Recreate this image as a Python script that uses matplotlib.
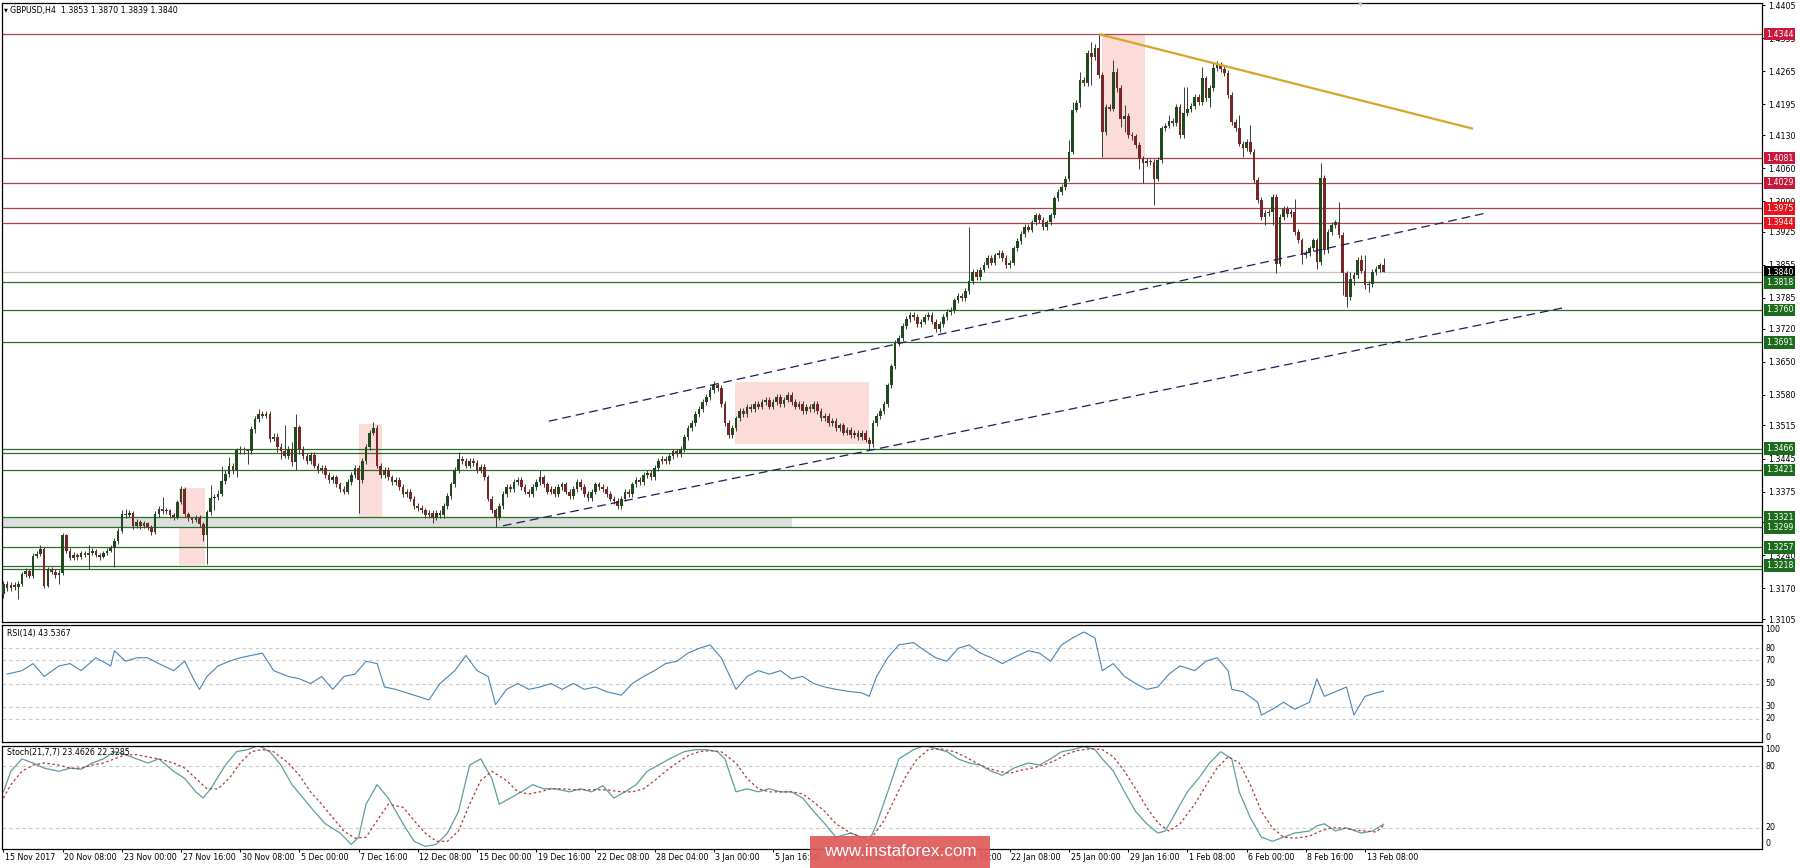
import numpy as np
import matplotlib.pyplot as plt
from matplotlib.patches import Rectangle

plt.rcParams['font.family'] = ['DejaVu Sans']

# ---------------- data: GBPUSD H4 candles, prices in points (0.0001) ----------------
first_open = 13158
closes = [
    13180, 13170, 13178, 13172, 13180, 13200, 13207, 13197, 13239, 13243,
    13254, 13176, 13211, 13205, 13198, 13203, 13282, 13250, 13235, 13240,
    13236, 13245, 13240, 13245, 13250, 13240, 13237, 13244, 13250, 13255,
    13271, 13292, 13328, 13325, 13330, 13303, 13310, 13302, 13308, 13300,
    13290, 13328, 13338, 13333, 13335, 13325, 13320, 13352, 13381, 13328,
    13318, 13314, 13320, 13306, 13282, 13331, 13362, 13363, 13370, 13398,
    13412, 13430, 13420, 13462, 13465, 13462, 13460, 13508, 13529, 13540,
    13535, 13540, 13487, 13490, 13470, 13460, 13451, 13465, 13437, 13511,
    13465, 13450, 13440, 13452, 13430, 13420, 13425, 13410, 13400, 13405,
    13390, 13380, 13375, 13395, 13410, 13425, 13400, 13440, 13470, 13500,
    13510, 13430, 13410, 13420, 13405, 13395, 13400, 13385, 13370, 13375,
    13360, 13345, 13340, 13335, 13325, 13330, 13320, 13330, 13325, 13345,
    13365, 13390, 13420, 13445, 13440, 13430, 13440, 13435, 13420, 13428,
    13405, 13360, 13335, 13320, 13345, 13370, 13385, 13380, 13395, 13400,
    13385, 13375, 13370, 13385, 13395, 13405, 13390, 13375, 13380, 13370,
    13385, 13390, 13375, 13365, 13380, 13395, 13385, 13370, 13362, 13375,
    13390, 13385, 13380, 13370, 13360, 13355, 13345, 13360, 13375, 13370,
    13390, 13400, 13395, 13410, 13415, 13405, 13425, 13440, 13445, 13440,
    13450, 13460, 13455, 13465, 13490, 13510, 13520, 13540, 13550, 13565,
    13575, 13590, 13600, 13595, 13560, 13520, 13495, 13510, 13530, 13545,
    13540, 13555, 13550, 13560, 13555, 13565, 13570, 13555, 13565, 13575,
    13560, 13570, 13580, 13565, 13555, 13560, 13545, 13555, 13550, 13560,
    13545, 13530, 13535, 13520, 13525, 13510, 13515, 13500, 13505, 13495,
    13500, 13490, 13500, 13485, 13475, 13520, 13535, 13545, 13560, 13600,
    13640, 13690, 13700, 13725, 13740, 13750, 13745, 13730, 13735, 13745,
    13750, 13735, 13720, 13730, 13745, 13755, 13760, 13780, 13790, 13785,
    13800, 13820, 13840, 13830, 13845, 13855, 13870, 13860, 13875, 13880,
    13870, 13855, 13860, 13890, 13905, 13920, 13935, 13930, 13945, 13960,
    13950, 13935, 13945, 13960, 13996, 14010, 14020, 14038, 14095, 14183,
    14197, 14247, 14240, 14303, 14295, 14315, 14257, 14137, 14190, 14186,
    14264, 14229, 14165, 14170, 14130, 14127, 14109, 14080, 14070, 14075,
    14073, 14038, 14077, 14144, 14150, 14160, 14155, 14190, 14130, 14176,
    14185, 14192, 14211, 14200, 14250, 14208, 14230, 14271, 14278, 14270,
    14262, 14215, 14158, 14144, 14112, 14102, 14115, 14095, 14035, 13992,
    13957, 13965, 13968, 13999, 13858, 13957, 13974, 13962, 13968, 13925,
    13907, 13875, 13880, 13890, 13907, 13861, 14040, 13886, 13925, 13939,
    13945, 13918, 13837, 13787, 13826, 13833, 13865, 13843, 13812, 13815,
    13840, 13846, 13854, 13840,
]
highs = [
    13186, 13185, 13184, 13183, 13186, 13205, 13213, 13210, 13244, 13250,
    13262, 13258, 13216, 13215, 13212, 13208, 13288, 13285, 13255, 13246,
    13245, 13250, 13249, 13262, 13256, 13254, 13245, 13249, 13255, 13262,
    13276, 13298, 13335, 13338, 13336, 13333, 13316, 13314, 13313, 13311,
    13304, 13333, 13344, 13364, 13341, 13338, 13330, 13358, 13386, 13384,
    13332, 13322, 13326, 13325, 13310, 13336, 13388, 13370, 13378, 13430,
    13420, 13448, 13436, 13468, 13472, 13470, 13466, 13514, 13536, 13550,
    13546, 13546, 13545, 13498, 13500, 13478, 13515, 13472, 13480, 13540,
    13515, 13471, 13456, 13458, 13458, 13436, 13431, 13431, 13416, 13411,
    13411, 13396, 13386, 13401, 13416, 13431, 13431, 13446, 13476, 13506,
    13522, 13516, 13436, 13426, 13426, 13411, 13406, 13406, 13391, 13381,
    13381, 13366, 13351, 13346, 13341, 13336, 13336, 13336, 13336, 13351,
    13371, 13396, 13426, 13458, 13451, 13446, 13446, 13446, 13441, 13434,
    13434, 13411, 13366, 13341, 13351, 13376, 13391, 13391, 13401, 13406,
    13406, 13391, 13381, 13391, 13401, 13420, 13411, 13396, 13386, 13386,
    13391, 13396, 13396, 13381, 13386, 13401, 13401, 13391, 13376, 13381,
    13396, 13396, 13391, 13386, 13376, 13366, 13361, 13366, 13381, 13381,
    13396, 13406, 13406, 13416, 13421, 13421, 13431, 13446, 13451, 13451,
    13456, 13466, 13466, 13471, 13496, 13516, 13526, 13546, 13556, 13571,
    13581, 13596, 13610, 13606, 13601, 13566, 13526, 13516, 13536, 13551,
    13551, 13561, 13561, 13566, 13566, 13571, 13576, 13576, 13571, 13581,
    13581, 13576, 13586, 13586, 13571, 13566, 13566, 13561, 13561, 13566,
    13566, 13551, 13541, 13541, 13531, 13531, 13521, 13521, 13511, 13511,
    13506, 13506, 13506, 13506, 13491, 13526, 13541, 13551, 13566, 13606,
    13646, 13696, 13706, 13731, 13746, 13756, 13756, 13751, 13741, 13751,
    13756, 13756, 13741, 13736, 13751, 13761, 13766, 13786, 13796, 13796,
    13806, 13935, 13846, 13846, 13851, 13861, 13876, 13876, 13881, 13886,
    13886, 13876, 13866, 13896, 13911, 13926, 13941, 13941, 13951, 13966,
    13966, 13956, 13951, 13966, 14002, 14016, 14026, 14044, 14119, 14201,
    14205, 14264, 14253, 14310, 14328, 14322, 14344, 14263, 14196, 14196,
    14289, 14271, 14235, 14193, 14176, 14136, 14133, 14115, 14086, 14081,
    14080, 14079, 14083, 14150, 14156, 14172, 14166, 14196, 14196, 14232,
    14232, 14198, 14217, 14217, 14274, 14256, 14236, 14282, 14286, 14284,
    14276, 14268, 14221, 14164, 14172, 14118, 14121, 14151, 14101, 14041,
    13998, 13971, 13974, 14005, 14005, 13963, 13980, 13980, 13974, 13995,
    13931, 13913, 13886, 13896, 13913, 13913, 14070, 14046, 13931, 13945,
    13951, 13988, 13924, 13843, 13840, 13839, 13872, 13875, 13875, 13821,
    13846, 13852, 13860, 13870,
]
lows = [
    13150, 13165, 13164, 13166, 13147, 13174, 13195, 13192, 13193, 13235,
    13238, 13170, 13172, 13200, 13192, 13180, 13198, 13244, 13230, 13230,
    13231, 13233, 13236, 13210, 13240, 13236, 13230, 13234, 13240, 13246,
    13215, 13265, 13288, 13320, 13321, 13296, 13298, 13296, 13298, 13294,
    13284, 13286, 13322, 13328, 13328, 13320, 13314, 13316, 13348, 13322,
    13312, 13308, 13310, 13300, 13270, 13222, 13326, 13336, 13358, 13365,
    13390, 13405, 13412, 13405, 13455, 13455, 13434, 13455, 13500, 13522,
    13530, 13530, 13480, 13482, 13458, 13444, 13446, 13445, 13430, 13420,
    13455, 13444, 13434, 13434, 13424, 13414, 13414, 13404, 13394, 13394,
    13384, 13374, 13369, 13369, 13389, 13404, 13330, 13394, 13434, 13464,
    13494, 13424, 13404, 13404, 13399, 13389, 13389, 13379, 13364, 13364,
    13354, 13339, 13334, 13329, 13319, 13319, 13308, 13314, 13319, 13319,
    13339, 13359, 13384, 13414, 13434, 13424, 13424, 13429, 13414, 13414,
    13399, 13354, 13329, 13300, 13314, 13339, 13364, 13374, 13374, 13389,
    13379, 13369, 13364, 13364, 13379, 13389, 13384, 13369, 13369, 13364,
    13364, 13379, 13369, 13359, 13359, 13374, 13379, 13364, 13356, 13356,
    13369, 13379, 13374, 13364, 13354, 13349, 13339, 13339, 13354, 13364,
    13364, 13384, 13389, 13389, 13404, 13399, 13399, 13419, 13434, 13434,
    13434, 13444, 13449, 13449, 13459, 13484, 13504, 13514, 13534, 13544,
    13559, 13569, 13584, 13589, 13554, 13514, 13489, 13489, 13504, 13524,
    13534, 13534, 13544, 13544, 13549, 13549, 13559, 13549, 13549, 13559,
    13554, 13554, 13564, 13559, 13549, 13549, 13539, 13539, 13544, 13544,
    13539, 13524, 13524, 13514, 13514, 13504, 13504, 13494, 13494, 13489,
    13489, 13484, 13484, 13479, 13462, 13469, 13514, 13529, 13539, 13554,
    13594, 13634, 13684, 13694, 13719, 13734, 13739, 13724, 13724, 13729,
    13739, 13729, 13714, 13714, 13724, 13739, 13749, 13754, 13774, 13779,
    13779, 13794, 13814, 13824, 13824, 13839, 13849, 13854, 13854, 13869,
    13864, 13849, 13849, 13854, 13884, 13899, 13914, 13924, 13924, 13939,
    13944, 13929, 13929, 13939, 13955, 13990, 14004, 14014, 14032, 14090,
    14178, 14190, 14234, 14234, 14236, 14290, 14250, 14084, 14130, 14180,
    14180, 14222, 14148, 14137, 14124, 14120, 14103, 14059, 14028, 14064,
    14066, 13982, 14032, 14071, 14138, 14144, 14149, 14149, 14124, 14124,
    14170, 14179, 14186, 14194, 14194, 14202, 14190, 14224, 14265, 14264,
    14256, 14209, 14152, 14138, 14106, 14084, 14096, 14089, 14028, 13986,
    13951, 13939, 13959, 13939, 13837, 13852, 13951, 13956, 13956, 13919,
    13901, 13858, 13869, 13874, 13884, 13847, 13855, 13879, 13880, 13919,
    13933, 13912, 13791, 13766, 13781, 13812, 13827, 13837, 13805, 13798,
    13809, 13834, 13840, 13839,
]

# right price scale (1.3310 sits under the 1.3321/1.3299 tags and is not visible)
price_ticks = [1.4405, 1.4335, 1.4265, 1.4195, 1.4130, 1.4060, 1.3990, 1.3925, 1.3855, 1.3785,
               1.3720, 1.3650, 1.3580, 1.3515, 1.3445, 1.3375, 1.3310, 1.3240, 1.3170, 1.3105]
hidden_ticks = [1.3310]

# horizontal levels drawn on the chart
red_levels = [1.4344, 1.4081, 1.4029, 1.3975, 1.3944]
green_levels = [1.3818, 1.3760, 1.3691, 1.3466, 1.3456, 1.3421, 1.3321, 1.3299, 1.3257, 1.3218, 1.3210]
last_price = 1.3840

# price tags on the right scale
tag_prices = [1.4344, 1.4081, 1.4029, 1.3975, 1.3944, 1.3840, 1.3818, 1.3760, 1.3691,
              1.3466, 1.3421, 1.3321, 1.3299, 1.3257, 1.3218]
tag_colors = ['#c8193c', '#c8193c', '#c8193c', '#e8141e', '#e8141e', '#000000', '#1d6b1d', '#1d6b1d',
              '#1d6b1d', '#1d6b1d', '#1d6b1d', '#1d6b1d', '#1d6b1d', '#1d6b1d', '#1d6b1d']

# highlighted zones (bar from, bar to, price low, price high)
pink_from = [47.5, 96.1, 197.7, 296.8]
pink_to = [54.5, 102.3, 234.0, 308.5]
pink_low = [1.3220, 1.3320, 1.3476, 1.4081]
pink_high = [1.3383, 1.3519, 1.3607, 1.4344]
band_to = 213.2           # grey band 1.3299 - 1.3321 ends here

# trend lines (bar, price)
chan_up_bars, chan_up_px = [147.4, 400.2], [1.3524, 1.3964]
chan_lo_bars, chan_lo_px = [135.0, 421.7], [1.33025, 1.37644]
res_bars, res_px = [296.4, 396.9], [1.4343, 1.4144]

# time axis labels, one every 16 bars
time_labels = ['15 Nov 2017', '20 Nov 08:00', '23 Nov 00:00', '27 Nov 16:00', '30 Nov 08:00',
               '5 Dec 00:00', '7 Dec 16:00', '12 Dec 08:00', '15 Dec 00:00', '19 Dec 16:00',
               '22 Dec 08:00', '28 Dec 04:00', '3 Jan 00:00', '5 Jan 16:00', '10 Jan 08:00',
               '15 Jan 00:00', '17 Jan 16:00', '22 Jan 08:00', '25 Jan 00:00', '29 Jan 16:00',
               '1 Feb 08:00', '6 Feb 00:00', '8 Feb 16:00', '13 Feb 08:00']

# RSI(14)
rsi_bars = [1, 5, 8, 11, 15, 18, 21, 25, 29, 30, 33, 36, 39, 42, 46, 49, 52, 53, 55, 58,
            61, 64, 67, 70, 73, 77, 80, 83, 86, 89, 92, 95, 98, 101, 103, 106, 109, 112, 115, 118,
            122, 125, 128, 131, 133, 136, 139, 142, 145, 148, 151, 154, 157, 160, 163, 167, 170, 173, 176, 179,
            182, 185, 188, 191, 194, 198, 201, 204, 207, 210, 213, 216, 219, 222, 225, 229, 232, 234, 236, 239,
            242, 246, 249, 252, 255, 258, 261, 264, 267, 270, 273, 277, 280, 283, 286, 289, 292, 295, 297, 300,
            303, 306, 309, 312, 315, 318, 322, 325, 328, 331, 332, 335, 339, 340, 343, 346, 349, 353, 355, 357,
            360, 363, 365, 368, 371, 373]
rsi_vals = [58, 61, 67, 56, 65, 67, 61, 72, 65, 78, 69, 72, 72, 67, 61, 69, 50, 45, 56, 65,
            69, 72, 74, 76, 61, 56, 54, 50, 56, 45, 56, 58, 69, 67, 47, 45, 42, 39, 36, 50,
            61, 74, 61, 56, 32, 45, 50, 45, 47, 50, 45, 50, 45, 47, 43, 40, 50, 56, 61, 67,
            69, 76, 80, 83, 72, 45, 56, 61, 58, 61, 54, 56, 50, 47, 45, 43, 42, 39, 56, 72,
            83, 85, 78, 72, 69, 80, 83, 76, 72, 67, 72, 78, 76, 69, 83, 89, 94, 89, 61, 67,
            56, 50, 45, 47, 58, 65, 61, 69, 72, 61, 45, 43, 34, 23, 28, 34, 28, 34, 54, 39,
            43, 47, 23, 39, 42, 43.5]

# Stochastic(21,7,7)
stk_bars = [0, 2, 5, 8, 11, 15, 18, 21, 24, 27, 30, 33, 36, 39, 42, 46, 49, 52, 54, 56,
            60, 63, 66, 69, 72, 75, 78, 81, 84, 87, 91, 94, 96, 98, 101, 104, 108, 111, 114, 117,
            120, 123, 126, 129, 132, 134, 137, 140, 143, 146, 149, 153, 156, 159, 162, 165, 168, 171, 174, 177,
            180, 184, 187, 190, 193, 195, 198, 201, 204, 207, 210, 213, 216, 219, 222, 225, 229, 232, 234, 236,
            239, 242, 246, 249, 252, 255, 258, 261, 264, 267, 270, 273, 277, 280, 283, 286, 289, 292, 295, 297,
            300, 303, 306, 309, 312, 314, 317, 320, 323, 326, 329, 332, 334, 337, 340, 343, 346, 349, 353, 355,
            357, 360, 363, 367, 370, 373]
stk_main = [55, 75, 87, 83, 78, 75, 78, 77, 83, 87, 94, 91, 87, 83, 87, 75, 68, 55, 49, 58,
            81, 94, 96, 100, 94, 81, 62, 49, 36, 24, 15, 4, 11, 43, 62, 49, 24, 7, 2, 4,
            15, 36, 81, 87, 68, 43, 49, 55, 62, 58, 58, 55, 58, 55, 61, 49, 55, 62, 75, 81,
            87, 94, 96, 96, 94, 87, 55, 58, 55, 58, 55, 55, 49, 36, 24, 11, 15, 11, 7, 24,
            55, 87, 96, 100, 97, 94, 87, 83, 81, 75, 71, 78, 83, 81, 87, 94, 96, 99, 96, 87,
            75, 55, 36, 24, 15, 17, 36, 55, 68, 83, 94, 87, 55, 30, 11, 7, 11, 15, 17, 22,
            24, 17, 20, 15, 17, 23.5]
sig_bars = [0, 2, 5, 8, 11, 15, 18, 21, 24, 27, 30, 33, 36, 39, 42, 46, 49, 52, 55, 58,
            61, 64, 67, 70, 73, 77, 80, 83, 86, 89, 92, 95, 98, 101, 104, 108, 111, 114, 117, 120,
            123, 126, 129, 132, 136, 139, 142, 145, 148, 151, 154, 157, 160, 163, 167, 170, 173, 176, 179, 182,
            185, 188, 191, 194, 198, 201, 204, 207, 210, 213, 216, 219, 222, 225, 229, 232, 235, 238, 241, 244,
            247, 250, 253, 257, 260, 263, 266, 269, 272, 275, 278, 281, 284, 287, 290, 294, 297, 300, 303, 306,
            309, 312, 315, 318, 322, 325, 328, 331, 334, 337, 340, 343, 346, 349, 353, 356, 359, 362, 365, 368,
            371, 373]
stk_signal = [49, 62, 75, 81, 83, 81, 78, 78, 81, 83, 87, 91, 91, 89, 87, 83, 78, 68, 58, 58,
              68, 83, 94, 96, 94, 83, 71, 55, 43, 30, 17, 10, 11, 27, 43, 40, 27, 15, 7, 7,
              17, 43, 66, 75, 66, 55, 53, 55, 58, 58, 57, 57, 57, 57, 55, 55, 58, 66, 75, 83,
              90, 94, 95, 94, 83, 68, 58, 55, 55, 55, 53, 45, 36, 24, 15, 11, 12, 27, 49, 71,
              87, 96, 97, 94, 89, 83, 78, 75, 73, 76, 78, 81, 85, 91, 95, 97, 96, 89, 75, 58,
              40, 25, 17, 24, 43, 61, 78, 89, 83, 62, 36, 20, 11, 10, 12, 17, 20, 20, 18, 17,
              16, 22.3]

# ---------------- figure layout (pixel boxes of the MT4 panes) ----------------
W, H = 1800, 868
fig = plt.figure(figsize=(W / 100, H / 100), dpi=100)
fig.patch.set_facecolor('white')


def pane(x0, y0, x1, y1):
    return fig.add_axes([x0 / W, 1 - y1 / H, (x1 - x0) / W, (y1 - y0) / H])


ax = pane(2, 3, 1762, 622)
ax_rsi = pane(2, 625, 1762, 742)
ax_st = pane(2, 745.5, 1762, 848.5)

XMIN, XMAX = -0.39, 475.3
FS = 5.7
for a in (ax, ax_rsi, ax_st):
    a.set_xlim(XMIN, XMAX)
    a.set_facecolor('white')
    for s in a.spines.values():
        s.set_color('black')
        s.set_linewidth(0.9)
    a.tick_params(left=False, labelleft=False, bottom=False, labelbottom=False)

# ---------------- main price pane ----------------
c = np.array(closes) / 1e4
o = np.array([first_open] + closes[:-1]) / 1e4
hi = np.array(highs) / 1e4
lo = np.array(lows) / 1e4
x = np.arange(len(c))

ax.set_ylim(1.30988, 1.44097)

for b0, b1, p0, p1 in zip(pink_from, pink_to, pink_low, pink_high):
    ax.add_patch(Rectangle((b0, p0), b1 - b0, p1 - p0, facecolor='#fcdcd8', edgecolor='none', zorder=0.5))
ax.add_patch(Rectangle((XMIN, 1.3299), band_to - XMIN, 1.3321 - 1.3299,
                       facecolor='#dcdfdc', edgecolor='none', zorder=0.5))

for p in red_levels:
    ax.axhline(p, color='#a8404e', lw=0.9, zorder=1)
for p in green_levels:
    ax.axhline(p, color='#2f6a2f', lw=0.9, zorder=1)
ax.axhline(last_price, color='#c4c4c4', lw=0.9, zorder=1)

up = c >= o
body_lo = np.minimum(o, c)
body_h = np.maximum(np.abs(c - o), 0.00022)
ax.vlines(x, lo, hi, colors='#3a3a3a', lw=0.7, zorder=2)
ax.bar(x[up], body_h[up], bottom=body_lo[up], width=0.72, color='#1e4a1e', linewidth=0, zorder=3)
ax.bar(x[~up], body_h[~up], bottom=body_lo[~up], width=0.72, color='#7b2626', linewidth=0, zorder=3)

ax.plot(chan_up_bars, chan_up_px, color='#1c1c5c', lw=0.9, dashes=(7, 4), zorder=4)
ax.plot(chan_lo_bars, chan_lo_px, color='#1c1c5c', lw=0.9, dashes=(7, 4), zorder=4)
ax.plot(res_bars, res_px, color='#d6a52a', lw=1.6, zorder=4)

ax.yaxis.tick_right()
ax.set_yticks(price_ticks)
ax.set_yticklabels(['' if p in hidden_ticks else f'{p:.4f}' for p in price_ticks])
ax.tick_params(axis='y', right=True, labelright=True, length=2.5, width=0.7, pad=1.8,
               labelsize=FS, colors='black')

for p, col in zip(tag_prices, tag_colors):
    ax.annotate(f'{p:.4f}', xy=(1, p), xycoords=('axes fraction', 'data'), xytext=(2.7, 0),
                textcoords='offset points', ha='left', va='center', fontsize=FS, color='white',
                bbox=dict(boxstyle='square,pad=0.22', fc=col, ec='none'),
                annotation_clip=False, zorder=10)

ax.text(0.0012, 0.9885, '\u25bc', transform=ax.transAxes, fontsize=3.6, va='center', ha='left', color='black')
ax.text(0.0048, 0.9885, 'GBPUSD,H4  1.3853 1.3870 1.3839 1.3840', transform=ax.transAxes,
        fontsize=FS, va='center', ha='left', color='black')
ax.text(0.7717, 0.9975, '\u25bc', transform=ax.transAxes, fontsize=4.5, va='center', ha='center', color='#c4c4c4')

# ---------------- RSI pane ----------------
ax_rsi.set_ylim(0, 100)
for lvl in (80, 70, 50, 30, 20):
    ax_rsi.axhline(lvl, color='#c8c8c8', lw=0.8, dashes=(3, 3))
ax_rsi.plot(rsi_bars, rsi_vals, color='#4a84b4', lw=0.8)
ax_rsi.text(0.003, 0.93, 'RSI(14) 43.5367', transform=ax_rsi.transAxes, fontsize=FS, va='center', ha='left')
for lvl in (100, 80, 70, 50, 30, 20, 0):
    va = 'top' if lvl == 100 else ('bottom' if lvl == 0 else 'center')
    ax_rsi.annotate(str(lvl), xy=(1, lvl), xycoords=('axes fraction', 'data'), xytext=(2.6, 0),
                    textcoords='offset points', ha='left', va=va, fontsize=FS, annotation_clip=False)

# ---------------- Stochastic pane ----------------
ax_st.set_ylim(0, 100)
for lvl in (80, 20):
    ax_st.axhline(lvl, color='#c8c8c8', lw=0.8, dashes=(3, 3))
ax_st.plot(stk_bars, stk_main, color='#5f9ea0', lw=0.9)
ax_st.plot(sig_bars, stk_signal, color='#b03a3a', lw=0.9, dashes=(2, 2))
ax_st.text(0.003, 0.93, 'Stoch(21,7,7) 23.4626 22.3285', transform=ax_st.transAxes,
           fontsize=FS, va='center', ha='left')
for lvl in (100, 80, 20, 0):
    va = 'top' if lvl == 100 else ('bottom' if lvl == 0 else 'center')
    ax_st.annotate(str(lvl), xy=(1, lvl), xycoords=('axes fraction', 'data'), xytext=(2.6, 0),
                   textcoords='offset points', ha='left', va=va, fontsize=FS, annotation_clip=False)

tick_bars = [16 * k for k in range(len(time_labels))]
ax_st.set_xticks(tick_bars)
ax_st.tick_params(axis='x', bottom=True, length=2.5, width=0.7, direction='out', labelbottom=False)
for b, lab in zip(tick_bars, time_labels):
    ax_st.annotate(lab, xy=(b, 0), xycoords=('data', 'axes fraction'), xytext=(1.2, -3.2),
                   textcoords='offset points', ha='left', va='top', fontsize=FS, annotation_clip=False)

# ---------------- watermark (sits over the time labels, as in the screenshot) ----------------
fig.patches.append(Rectangle((810 / W, 0), 180 / W, 32 / H, transform=fig.transFigure,
                             facecolor='#e05c5c', edgecolor='none', alpha=0.93, zorder=20))
fig.text(900 / W, 16 / H, 'www.instaforex.com', ha='center', va='center', color='white',
         fontsize=12.3, family=['Liberation Sans'], zorder=21)

fig.savefig('out.png', dpi=100, facecolor='white')
